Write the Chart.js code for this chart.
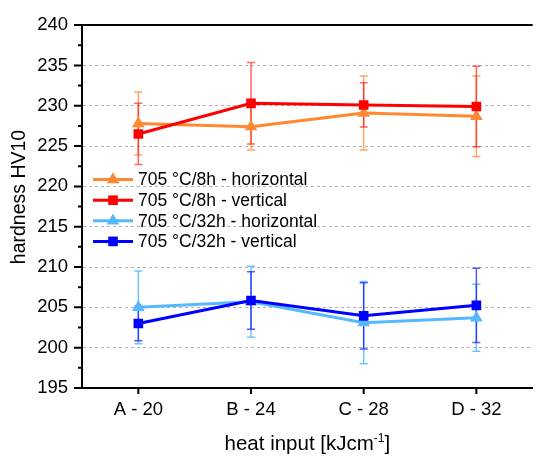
<!DOCTYPE html>
<html>
<head>
<meta charset="utf-8">
<script src="https://cdn.jsdelivr.net/npm/chart.js@4/dist/chart.umd.min.js"></script>
<style>
  html, body { margin: 0; padding: 0; background: #fff; }
  #wrap { width: 540px; height: 459px; position: relative; }
</style>
</head>
<body>
<div id="wrap"><canvas id="hardnessChart"></canvas></div>
<script>
const CATEGORIES = ['A - 20', 'B - 24', 'C - 28', 'D - 32'];

const H8_HORIZONTAL = [227.8, 227.4, 229.1, 228.7];
const H8_HORIZONTAL_ERR = [3.9, 2.9, 4.6, 5.0];
const H8_VERTICAL = [226.5, 230.3, 230.1, 229.9];
const H8_VERTICAL_ERR = [3.8, 5.05, 2.75, 5.0];
const H32_HORIZONTAL = [205.0, 205.7, 203.1, 203.7];
const H32_HORIZONTAL_ERR = [4.5, 4.4, 5.1, 4.15];
const H32_VERTICAL = [203.0, 205.85, 203.95, 205.25];
const H32_VERTICAL_ERR = [2.15, 3.55, 4.1, 4.6];

const Y_MIN = 195;
const Y_MAX = 240;
const Y_STEP = 5;

const FONT = "'Liberation Sans', Arial, sans-serif";

const SERIES = [
  { label: '705 °C/8h - horizontal', data: H8_HORIZONTAL, err: H8_HORIZONTAL_ERR, color: 'rgb(255,136,48)', bar: 'rgba(255,136,48,0.75)', style: 'triangle', r: 7.3 },
  { label: '705 °C/8h - vertical', data: H8_VERTICAL, err: H8_VERTICAL_ERR, color: 'rgb(255,0,0)', bar: 'rgba(255,0,0,0.6)', style: 'rect', r: 6.8 },
  { label: '705 °C/32h - horizontal', data: H32_HORIZONTAL, err: H32_HORIZONTAL_ERR, color: 'rgb(85,185,255)', bar: 'rgba(85,185,255,0.85)', style: 'triangle', r: 7.3 },
  { label: '705 °C/32h - vertical', data: H32_VERTICAL, err: H32_VERTICAL_ERR, color: 'rgb(0,0,255)', bar: 'rgba(0,0,255,0.65)', style: 'rect', r: 6.8 },
];

// error bars, drawn under the lines
const errorBars = {
  id: 'errorBars',
  beforeDatasetsDraw(chart) {
    const ctx = chart.ctx;
    const y = chart.scales.y;
    ctx.save();
    chart.data.datasets.forEach((ds, i) => {
      const meta = chart.getDatasetMeta(i);
      const errs = SERIES[i].err;
      ctx.strokeStyle = SERIES[i].bar;
      ctx.lineWidth = 1.5;
      meta.data.forEach((pt, j) => {
        const x = pt.x;
        const top = y.getPixelForValue(ds.data[j] + errs[j]);
        const bot = y.getPixelForValue(ds.data[j] - errs[j]);
        ctx.beginPath();
        ctx.moveTo(x, top); ctx.lineTo(x, bot);
        ctx.moveTo(x - 4, top); ctx.lineTo(x + 4, top);
        ctx.moveTo(x - 4, bot); ctx.lineTo(x + 4, bot);
        ctx.stroke();
      });
    });
    ctx.restore();
  }
};

// tick marks, frame, titles and legend
const decorations = {
  id: 'decorations',
  afterDraw(chart) {
    const ctx = chart.ctx;
    const area = chart.chartArea;
    const y = chart.scales.y;
    const x = chart.scales.x;
    ctx.save();
    ctx.strokeStyle = '#000';
    ctx.lineWidth = 2;
    ctx.beginPath();
    ctx.moveTo(area.left - 1, area.top);
    ctx.lineTo(area.right, area.top);
    for (let v = Y_MIN; v <= Y_MAX + 0.01; v += Y_STEP / 2) {
      const py = y.getPixelForValue(v);
      const major = Math.abs(v / Y_STEP - Math.round(v / Y_STEP)) < 0.01;
      ctx.moveTo(area.left, py);
      ctx.lineTo(area.left - (major ? 8 : 4), py);
    }
    CATEGORIES.forEach((c, i) => {
      const px = x.getPixelForValue(i);
      ctx.moveTo(px, area.bottom);
      ctx.lineTo(px, area.bottom + 6);
    });
    ctx.stroke();

    // axis titles
    ctx.fillStyle = '#000';
    ctx.textAlign = 'center';
    ctx.textBaseline = 'middle';
    ctx.font = '19.5px ' + FONT;
    ctx.save();
    ctx.translate(20, 197);
    ctx.rotate(-Math.PI / 2);
    ctx.fillText('hardness HV10', 0, 0);
    ctx.restore();

    const main = 'heat input [kJcm';
    const sup = '-1';
    const close = ']';
    ctx.font = '20.5px ' + FONT;
    const wMain = ctx.measureText(main).width;
    const wClose = ctx.measureText(close).width;
    ctx.font = '12px ' + FONT;
    const wSup = ctx.measureText(sup).width;
    const total = wMain + wSup + wClose;
    let tx = (area.left + area.right) / 2 - total / 2;
    const base = 450;
    ctx.textAlign = 'left';
    ctx.textBaseline = 'alphabetic';
    ctx.font = '20.5px ' + FONT;
    ctx.fillText(main, tx, base);
    tx += wMain;
    ctx.font = '12px ' + FONT;
    ctx.fillText(sup, tx, base - 8);
    tx += wSup;
    ctx.font = '20.5px ' + FONT;
    ctx.fillText(close, tx, base);

    // legend inside the plot
    const lx0 = 93, lx1 = 133, mx = 113, tx0 = 138;
    const rows = [179.5, 200.2, 220.8, 241.4];
    SERIES.forEach((s, i) => {
      const ry = rows[i];
      ctx.strokeStyle = s.color;
      ctx.lineWidth = 3;
      ctx.beginPath();
      ctx.moveTo(lx0, ry); ctx.lineTo(lx1, ry);
      ctx.stroke();
      ctx.fillStyle = s.color;
      Chart.helpers.drawPoint(ctx, { pointStyle: s.style, radius: s.r, borderWidth: 0 }, mx, ry);
      ctx.fillStyle = '#000';
      ctx.font = '17.5px ' + FONT;
      ctx.textBaseline = 'middle';
      ctx.fillText(s.label, tx0, ry + 1);
    });
    ctx.restore();
  }
};

const ctx = document.getElementById('hardnessChart').getContext('2d');

new Chart(ctx, {
  type: 'line',
  data: {
    labels: CATEGORIES,
    datasets: SERIES.map((s, i) => ({
      label: s.label,
      data: s.data,
      borderColor: s.color,
      backgroundColor: s.color,
      borderWidth: 3,
      pointStyle: s.style,
      pointRadius: s.r,
      pointBorderWidth: 0,
      pointBackgroundColor: s.color,
      tension: 0,
      order: 4 - i,
    })),
  },
  options: {
    responsive: true,
    maintainAspectRatio: false,
    animation: false,
    devicePixelRatio: 1,
    layout: { padding: { top: 16, right: 0, left: 0, bottom: 0 } },
    plugins: {
      legend: { display: false },
      tooltip: { enabled: false },
    },
    scales: {
      x: {
        type: 'category',
        offset: true,
        afterFit(scale) { scale.height = 71; },
        grid: { drawOnChartArea: false, drawTicks: false },
        border: { display: true, color: '#000', width: 2 },
        ticks: {
          color: '#000',
          padding: 11,
          font: { family: FONT, size: 18.5 },
        },
      },
      y: {
        min: Y_MIN,
        max: Y_MAX,
        afterFit(scale) { scale.width = 82; },
        grid: {
          drawTicks: false,
          color: (c) => (c.tick && c.tick.value > Y_MIN && c.tick.value < Y_MAX ? '#b0b0b0' : 'rgba(0,0,0,0)'),
          lineWidth: 1,
        },
        border: { display: true, color: '#000', width: 2, dash: [3, 3] },
        ticks: {
          stepSize: Y_STEP,
          color: '#000',
          padding: 14,
          font: { family: FONT, size: 18.5 },
        },
      },
    },
  },
  plugins: [errorBars, decorations],
});
</script>
</body>
</html>
